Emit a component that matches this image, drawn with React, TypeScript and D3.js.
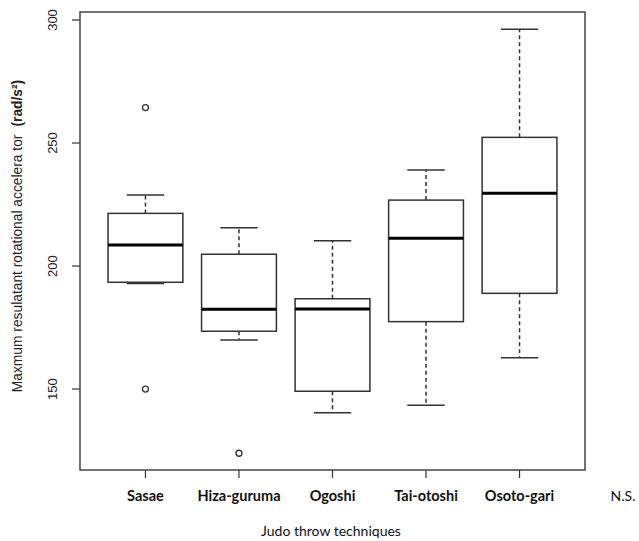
import React from "react";
import * as d3 from "d3";

const categories = ["Sasae", "Hiza-guruma", "Ogoshi", "Tai-otoshi", "Osoto-gari"];
const lowerWhisker = [192.9, 169.9, 140.4, 143.4, 162.7];
const q1 = [193.4, 173.5, 149.1, 177.4, 188.9];
const median = [208.5, 182.4, 182.5, 211.3, 229.6];
const q3 = [221.4, 204.8, 186.7, 226.8, 252.3];
const upperWhisker = [228.9, 215.6, 210.3, 239.0, 296.2];
const outliers: number[][] = [[264.4, 150.0], [123.9], [], [], []];
const yTicks = [150, 200, 250, 300];

const W = 639;
const H = 541;
const left = 80, right = 585, top = 12, bottom = 470;

export default function App() {
  const x = d3.scaleLinear().domain([0.3, 5.7]).range([left, right]);
  const y = d3.scaleLinear().domain([117.1, 303.25]).range([bottom, top]);
  const boxW = x(0.4) - x(0);
  const capW = x(0.2) - x(0);
  const stroke = "#333";

  return (
    <svg width={W} height={H} style={{ position: "absolute", left: 0, top: 0, background: "#fff" }}>
      <rect x={0} y={0} width={W} height={H} fill="#fff" />
      {categories.map((c, i) => {
        const cx = x(i + 1);
        return (
          <g key={c}>
            <line x1={cx} x2={cx} y1={y(q3[i])} y2={y(upperWhisker[i])} stroke={stroke} strokeWidth={1.5} strokeDasharray="4,3" />
            <line x1={cx} x2={cx} y1={y(q1[i])} y2={y(lowerWhisker[i])} stroke={stroke} strokeWidth={1.5} strokeDasharray="4,3" />
            <line x1={cx - capW} x2={cx + capW} y1={y(upperWhisker[i])} y2={y(upperWhisker[i])} stroke={stroke} strokeWidth={1.5} />
            <line x1={cx - capW} x2={cx + capW} y1={y(lowerWhisker[i])} y2={y(lowerWhisker[i])} stroke={stroke} strokeWidth={1.5} />
            <rect x={cx - boxW} y={y(q3[i])} width={2 * boxW} height={y(q1[i]) - y(q3[i])} fill="none" stroke={stroke} strokeWidth={1.5} />
            <line x1={cx - boxW} x2={cx + boxW} y1={y(median[i])} y2={y(median[i])} stroke="#000" strokeWidth={3} />
            {outliers[i].map((v, j) => (
              <circle key={j} cx={cx} cy={y(v)} r={3} fill="none" stroke={stroke} strokeWidth={1.3} />
            ))}
            <line x1={cx} x2={cx} y1={bottom} y2={bottom + 8} stroke={stroke} strokeWidth={1.2} />
            <text x={cx} y={501} textAnchor="middle" fontFamily="Lato" fontWeight="bold" fontSize={14.5} fill="#111">{c}</text>
          </g>
        );
      })}
      <text x={623} y={501} textAnchor="middle" fontFamily="Lato" fontSize={14} fill="#111">N.S.</text>
      {yTicks.map((t) => (
        <g key={t}>
          <line x1={left - 8} x2={left} y1={y(t)} y2={y(t)} stroke={stroke} strokeWidth={1.2} />
          <text transform={`translate(57,${y(t)}) rotate(-90)`} textAnchor="middle" fontFamily="Liberation Sans" fontSize={13} fill="#222">{t}</text>
        </g>
      ))}
      <rect x={left} y={top} width={right - left} height={bottom - top} fill="none" stroke="#444" strokeWidth={1.5} />
      <text transform={`translate(22,236) rotate(-90)`} textAnchor="middle" fontFamily="Liberation Sans" fontSize={13.8} fill="#222">
        Maxmum resulatant rotational accelera tor
        <tspan dx={8} fontWeight="bold">(rad/s²)</tspan>
      </text>
      <text x={331} y={536} textAnchor="middle" fontFamily="Lato" fontSize={14} fill="#111">Judo throw techniques</text>
    </svg>
  );
}
